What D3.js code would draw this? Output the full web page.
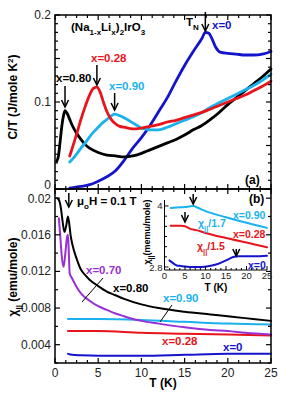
<!DOCTYPE html>
<html><head><meta charset="utf-8">
<script src="https://cdn.jsdelivr.net/npm/d3@7"></script>
<style>body{margin:0;background:#fff}svg{display:block;font-family:"Liberation Sans",Arial,sans-serif}</style>
</head><body><svg id="c" width="299" height="408"></svg>
<script>
// ---------- DATA ----------
// Panel (a): C/T (J/mole K^2) vs T (K)
const a_x080_T = [0.2,0.4,0.6,0.8,1.0,1.16,1.4,1.7,2.0,2.5,3,3.5,4,5,6,7,8,9,10,11,12,13,14,15,16,17,18,19,20,21,22,23,24,25];
const a_x080_C = [0.032,0.038,0.055,0.073,0.085,0.090,0.087,0.080,0.073,0.064,0.057,0.051,0.047,0.042,0.039,0.038,0.037,0.038,0.041,0.045,0.049,0.053,0.057,0.062,0.068,0.073,0.080,0.088,0.097,0.105,0.113,0.121,0.129,0.138];
const a_x028_T = [1.7,2,2.5,3,3.5,4,4.5,4.85,5.2,5.6,6,6.5,7,7.5,8,9,10,11,12,13,14,15,16,17,18,19,20,21,22,23,24,25];
const a_x028_C = [0.038,0.047,0.063,0.080,0.095,0.108,0.116,0.117,0.112,0.100,0.089,0.080,0.075,0.072,0.071,0.069,0.070,0.072,0.074,0.077,0.079,0.082,0.085,0.088,0.092,0.096,0.100,0.104,0.108,0.113,0.118,0.124];
const a_x090_T = [1.7,2,2.5,3,3.5,4,4.5,5,5.5,6,6.5,6.9,7.3,8,8.5,9,9.5,10,10.5,11,12,13,14,15,16,17,18,19,20,21,22,23,24,25];
const a_x090_C = [0.031,0.034,0.040,0.047,0.053,0.060,0.066,0.071,0.076,0.080,0.084,0.086,0.085,0.082,0.079,0.076,0.073,0.070,0.069,0.068,0.068,0.071,0.075,0.079,0.083,0.088,0.094,0.099,0.104,0.109,0.114,0.119,0.125,0.132];
const a_x0_T = [1.7,3,4,5,6,7,8,9,10,11,12,13,14,15,16,17,17.4,17.8,18.2,18.6,19.2,20,21,22,23,24,25];
const a_x0_C = [0.001,0.003,0.005,0.009,0.014,0.021,0.033,0.047,0.059,0.073,0.089,0.105,0.124,0.142,0.158,0.173,0.180,0.179,0.172,0.163,0.157,0.156,0.155,0.154,0.154,0.155,0.158];

// Panel (b): chi (emu/mole) vs T (K)
const b_x080_T = [0.25,0.5,0.7,0.9,1.1,1.3,1.5,1.65,1.8,2.0,2.5,3,3.5,4,5,6,7,8,10,12,15,18,20,22,25];
const b_x080_X = [0.0200,0.0197,0.0188,0.0173,0.0163,0.0170,0.0180,0.0172,0.0160,0.0150,0.0134,0.0122,0.0116,0.0111,0.0104,0.0098,0.0094,0.0090,0.0084,0.0080,0.0076,0.0073,0.0071,0.0069,0.0066];
const b_x070_T = [0.45,0.6,0.8,1.0,1.2,1.4,1.5,1.6,1.7,2.0,2.5,3,4,5,6,7,8,9,10,12,15,18,20,22,25];
const b_x070_X = [0.0178,0.0160,0.0135,0.0125,0.0140,0.0158,0.0160,0.0140,0.0118,0.0112,0.0103,0.0096,0.0088,0.0082,0.0078,0.0074,0.0071,0.0068,0.0066,0.0063,0.0059,0.0056,0.0055,0.0053,0.0051];
const b_x090_T = [1.5,5,10,15,20,25];
const b_x090_X = [0.0068,0.0068,0.0067,0.0065,0.0063,0.0062];
const b_x028_T = [1.5,5,10,15,20,25];
const b_x028_X = [0.0055,0.0055,0.0053,0.0052,0.0051,0.0050];
const b_x0_T = [1.5,2,3,5,10,15,20,25];
const b_x0_X = [0.0030,0.0029,0.00285,0.0028,0.0028,0.0029,0.0030,0.0030];

// Inset: chi (memu/mole), scaled
const i_x090_T = [1.5,3,5,6,7,8,10,15,20,25];
const i_x090_X = [3.96,3.97,3.98,3.99,4.0,3.97,3.90,3.78,3.67,3.57];
const i_x028_T = [1.5,3,4,5,6,8,10,15,20,25];
const i_x028_X = [3.61,3.61,3.61,3.60,3.56,3.52,3.47,3.37,3.28,3.19];
const i_x0_T = [1.2,2,3,4,5,7,9,11,13,15,16,17,18,20,22,25];
const i_x0_X = [2.93,2.88,2.83,2.82,2.81,2.80,2.80,2.82,2.86,2.93,2.97,3.0,3.01,3.01,3.01,3.02];

const xTickLabels = [0,5,10,15,20,25];
const aYTickLabels = [0,0.1,0.2];
const bYTickLabels = [0.004,0.008,0.012,0.016,0.02];
const iXTickLabels = [0,5,10,15,20,25];
const iYTickLabels = [2.8,4];

// ---------- STYLE ----------
const C = {black:"#000000", red:"#e8141c", cyan:"#1ab2ee", blue:"#1414cc", purple:"#9a2fd6"};

const svg = d3.select("#c");
const L = 55, R = 271, aTop = 15, mid = 189, bBot = 363;
const x = d3.scaleLinear([0,25],[L,R]);
const yA = d3.scaleLinear([0,0.2],[mid,aTop]);
const yB = d3.scaleLinear([0.002,0.021],[bBot,mid]);
const xI = d3.scaleLinear([0,25],[164.5,267]);
const yI = d3.scaleLinear([2.741,4.118],[270,200]);

function curve(xs, ys, T, V, col, w){
  svg.append("path").datum(T.map((t,i)=>[t,V[i]]))
    .attr("fill","none").attr("stroke",col).attr("stroke-width",w)
    .attr("stroke-linejoin","round").attr("stroke-linecap","round")
    .attr("d", d3.line().x(d=>xs(d[0])).y(d=>ys(d[1])).curve(d3.curveMonotoneX));
}
function arrow(px, y1, y2, col){
  svg.append("line").attr("x1",px).attr("x2",px).attr("y1",y1).attr("y2",y2).attr("stroke",col).attr("stroke-width",1.5);
  svg.append("path").attr("d",`M${px-3.5},${y2-7}L${px},${y2}L${px+3.5},${y2-7}`).attr("fill","none").attr("stroke",col).attr("stroke-width",1.5);
}
function txt(px,py,s,col,size,weight,anchor){
  return svg.append("text").attr("x",px).attr("y",py).attr("fill",col||"#000")
    .attr("font-size",size||11.5).attr("font-weight",weight||"bold").attr("text-anchor",anchor||"start").text(s);
}

// ---------- PANEL A ----------
curve(x,yA,a_x0_T,a_x0_C,C.blue,2.8);
curve(x,yA,a_x080_T,a_x080_C,C.black,2.8);
curve(x,yA,a_x090_T,a_x090_C,C.cyan,2.8);
curve(x,yA,a_x028_T,a_x028_C,C.red,2.8);

// ---------- PANEL B ----------
curve(x,yB,b_x0_T,b_x0_X,C.blue,2);
curve(x,yB,b_x028_T,b_x028_X,C.red,2);
curve(x,yB,b_x090_T,b_x090_X,C.cyan,2);
curve(x,yB,b_x070_T,b_x070_X,C.purple,2);
curve(x,yB,b_x080_T,b_x080_X,C.black,2);

// ---------- FRAMES & TICKS ----------
const axG = svg.append("g").attr("stroke","#000").attr("stroke-width",1.2);
axG.append("rect").attr("x",L).attr("y",aTop).attr("width",R-L).attr("height",mid-aTop).attr("fill","none").attr("stroke-width",1.5);
axG.append("rect").attr("x",L).attr("y",mid).attr("width",R-L).attr("height",bBot-mid).attr("fill","none").attr("stroke-width",1.5);
d3.range(0,25.01,1.25).forEach(t=>{
  const major = Math.abs(t%5)<1e-6, len = major?5:3, px = x(t);
  [aTop, mid, bBot].forEach(ey=>{
    if(ey!==aTop) axG.append("line").attr("x1",px).attr("x2",px).attr("y1",ey).attr("y2",ey-len);
    if(ey!==bBot) axG.append("line").attr("x1",px).attr("x2",px).attr("y1",ey).attr("y2",ey+len);
  });
});
d3.range(0,0.2001,0.01).forEach(v=>{
  const major = Math.round(v*1000)%50===0, len = major?5:3, py=yA(v);
  axG.append("line").attr("x1",L).attr("x2",L+len).attr("y1",py).attr("y2",py);
  axG.append("line").attr("x1",R).attr("x2",R-len).attr("y1",py).attr("y2",py);
});
d3.range(0.002,0.0211,0.002).forEach(v=>{
  const major = Math.round(v*1000)%4===0, len = major?5:3, py=yB(v);
  axG.append("line").attr("x1",L).attr("x2",L+len).attr("y1",py).attr("y2",py);
  axG.append("line").attr("x1",R).attr("x2",R-len).attr("y1",py).attr("y2",py);
});

// tick labels
const fmtA = d=> d===0?"0":d3.format(".1f")(d);
aYTickLabels.forEach(v=>txt(L-4,yA(v)+(v===0?0:4),fmtA(v),"#222",12,"normal","end"));
bYTickLabels.forEach(v=>txt(L-4,yB(v)+(v===0.02?5:4),String(+v.toFixed(3)),"#222",12,"normal","end"));
xTickLabels.forEach(v=>txt(x(v),bBot+14,String(v),"#222",12,"normal","middle"));

// axis titles
txt(163,387,"T (K)","#000",12,"bold","middle");
const ya = svg.append("text").attr("transform","translate(17,97) rotate(-90)").attr("text-anchor","middle")
  .attr("font-size",12).attr("font-weight","bold");
ya.append("tspan").text("C/T (J/mole K");
ya.append("tspan").attr("dy",-4).attr("font-size",8).text("2");
ya.append("tspan").attr("dy",4).text(")");
const yb = svg.append("text").attr("transform","translate(17,277) rotate(-90)").attr("text-anchor","middle")
  .attr("font-size",12).attr("font-weight","bold");
yb.append("tspan").text("χ");
yb.append("tspan").attr("dy",4).attr("font-size",8).text("||");
yb.append("tspan").attr("dy",-4).text(" (emu/mole)");

// ---------- PANEL A ANNOTATIONS ----------
const f = svg.append("text").attr("x",71).attr("y",31).attr("font-size",11.5).attr("font-weight","bold");
f.append("tspan").text("(Na");
f.append("tspan").attr("dy",4).attr("font-size",8).text("1-x");
f.append("tspan").attr("dy",-4).text("Li");
f.append("tspan").attr("dy",4).attr("font-size",8).text("x");
f.append("tspan").attr("dy",-4).text(")");
f.append("tspan").attr("dy",4).attr("font-size",8).text("2");
f.append("tspan").attr("dy",-4).text("IrO");
f.append("tspan").attr("dy",4).attr("font-size",8).text("3");

txt(56,82,"x=0.80",C.black);
arrow(x(1.16),86,107,C.black);
txt(91,62,"x=0.28",C.red);
arrow(x(4.85),65,85,C.black);
txt(109,90,"x=0.90",C.cyan);
arrow(x(6.9),93,110,C.black);
const tn = svg.append("text").attr("x",186).attr("y",26).attr("font-size",11.5).attr("font-weight","bold");
tn.append("tspan").text("T");
tn.append("tspan").attr("dy",4).attr("font-size",8).text("N");
arrow(x(17.4),12,31,C.black);
txt(212,29,"x=0",C.blue);
txt(245,184,"(a)","#000",12,"bold");

// ---------- PANEL B ANNOTATIONS ----------
arrow(x(1.6),193,207,C.black);
const mu = svg.append("text").attr("x",77).attr("y",205).attr("font-size",11.5).attr("font-weight","bold");
mu.append("tspan").text("μ");
mu.append("tspan").attr("dy",4).attr("font-size",8).text("o");
mu.append("tspan").attr("dy",-4).text("H = 0.1 T");
txt(86,274,"x=0.70",C.purple);
svg.append("line").attr("x1",103).attr("y1",278).attr("x2",82).attr("y2",302).attr("stroke","#000").attr("stroke-width",1);
txt(113,292,"x=0.80",C.black);
txt(163,302,"x=0.90",C.cyan);
svg.append("line").attr("x1",172).attr("y1",305).attr("x2",160).attr("y2",322).attr("stroke","#000").attr("stroke-width",1);
txt(162,345,"x=0.28",C.red);
txt(223,351,"x=0",C.blue);
txt(249,203,"(b)","#000",12,"bold");

// ---------- INSET ----------
curve(xI,yI,i_x090_T,i_x090_X,C.cyan,2);
curve(xI,yI,i_x028_T,i_x028_X,C.red,2);
curve(xI,yI,i_x0_T,i_x0_X,C.blue,2);
const ig = svg.append("g").attr("stroke","#000").attr("stroke-width",1);
ig.append("line").attr("x1",xI(0)).attr("x2",xI(0)).attr("y1",200).attr("y2",270);
ig.append("line").attr("x1",xI(0)).attr("x2",xI(25)).attr("y1",270).attr("y2",270);
d3.range(0,25.01,1.25).forEach(t=>{
  const len = Math.abs(t%5)<1e-6?4:2;
  ig.append("line").attr("x1",xI(t)).attr("x2",xI(t)).attr("y1",270).attr("y2",270-len);
});
d3.range(2.8,4.01,0.2).forEach(v=>{
  const len = (Math.abs(v-2.8)<1e-6||Math.abs(v-4)<1e-6)?4:2.5;
  ig.append("line").attr("x1",xI(0)).attr("x2",xI(0)+len).attr("y1",yI(v)).attr("y2",yI(v));
});
iXTickLabels.forEach(v=>txt(xI(v),279,String(v),"#222",9.5,"normal","middle"));
iYTickLabels.forEach(v=>txt(xI(0)-2,yI(v)+3.5,String(v),"#222",9.5,"normal","end"));
txt(216,291,"T (K)","#000",10,"bold","middle");
const yi = svg.append("text").attr("transform","translate(150,232) rotate(-90)").attr("text-anchor","middle")
  .attr("font-size",9).attr("font-weight","bold");
yi.append("tspan").text("χ");
yi.append("tspan").attr("dy",3).attr("font-size",7).text("||");
yi.append("tspan").attr("dy",-3).text("(memu/mole)");
arrow(xI(7),194,204,C.black);
arrow(xI(5),212,222,C.black);
arrow(xI(17.5),249,256,C.black);
txt(233,219,"x=0.90",C.cyan,10.5);
const c17 = svg.append("text").attr("x",198).attr("y",227).attr("font-size",10.5).attr("font-weight","bold").attr("fill",C.cyan);
c17.append("tspan").text("χ");
c17.append("tspan").attr("dy",4).attr("font-size",7.5).text("||");
c17.append("tspan").attr("dy",-4).text("/1.7");
txt(233,238,"x=0.28",C.red,10.5);
const c15 = svg.append("text").attr("x",197).attr("y",250).attr("font-size",10.5).attr("font-weight","bold").attr("fill",C.red);
c15.append("tspan").text("χ");
c15.append("tspan").attr("dy",4).attr("font-size",7.5).text("||");
c15.append("tspan").attr("dy",-4).text("/1.5");
txt(248,269,"x=0",C.blue,10.5);
</script></body></html>
